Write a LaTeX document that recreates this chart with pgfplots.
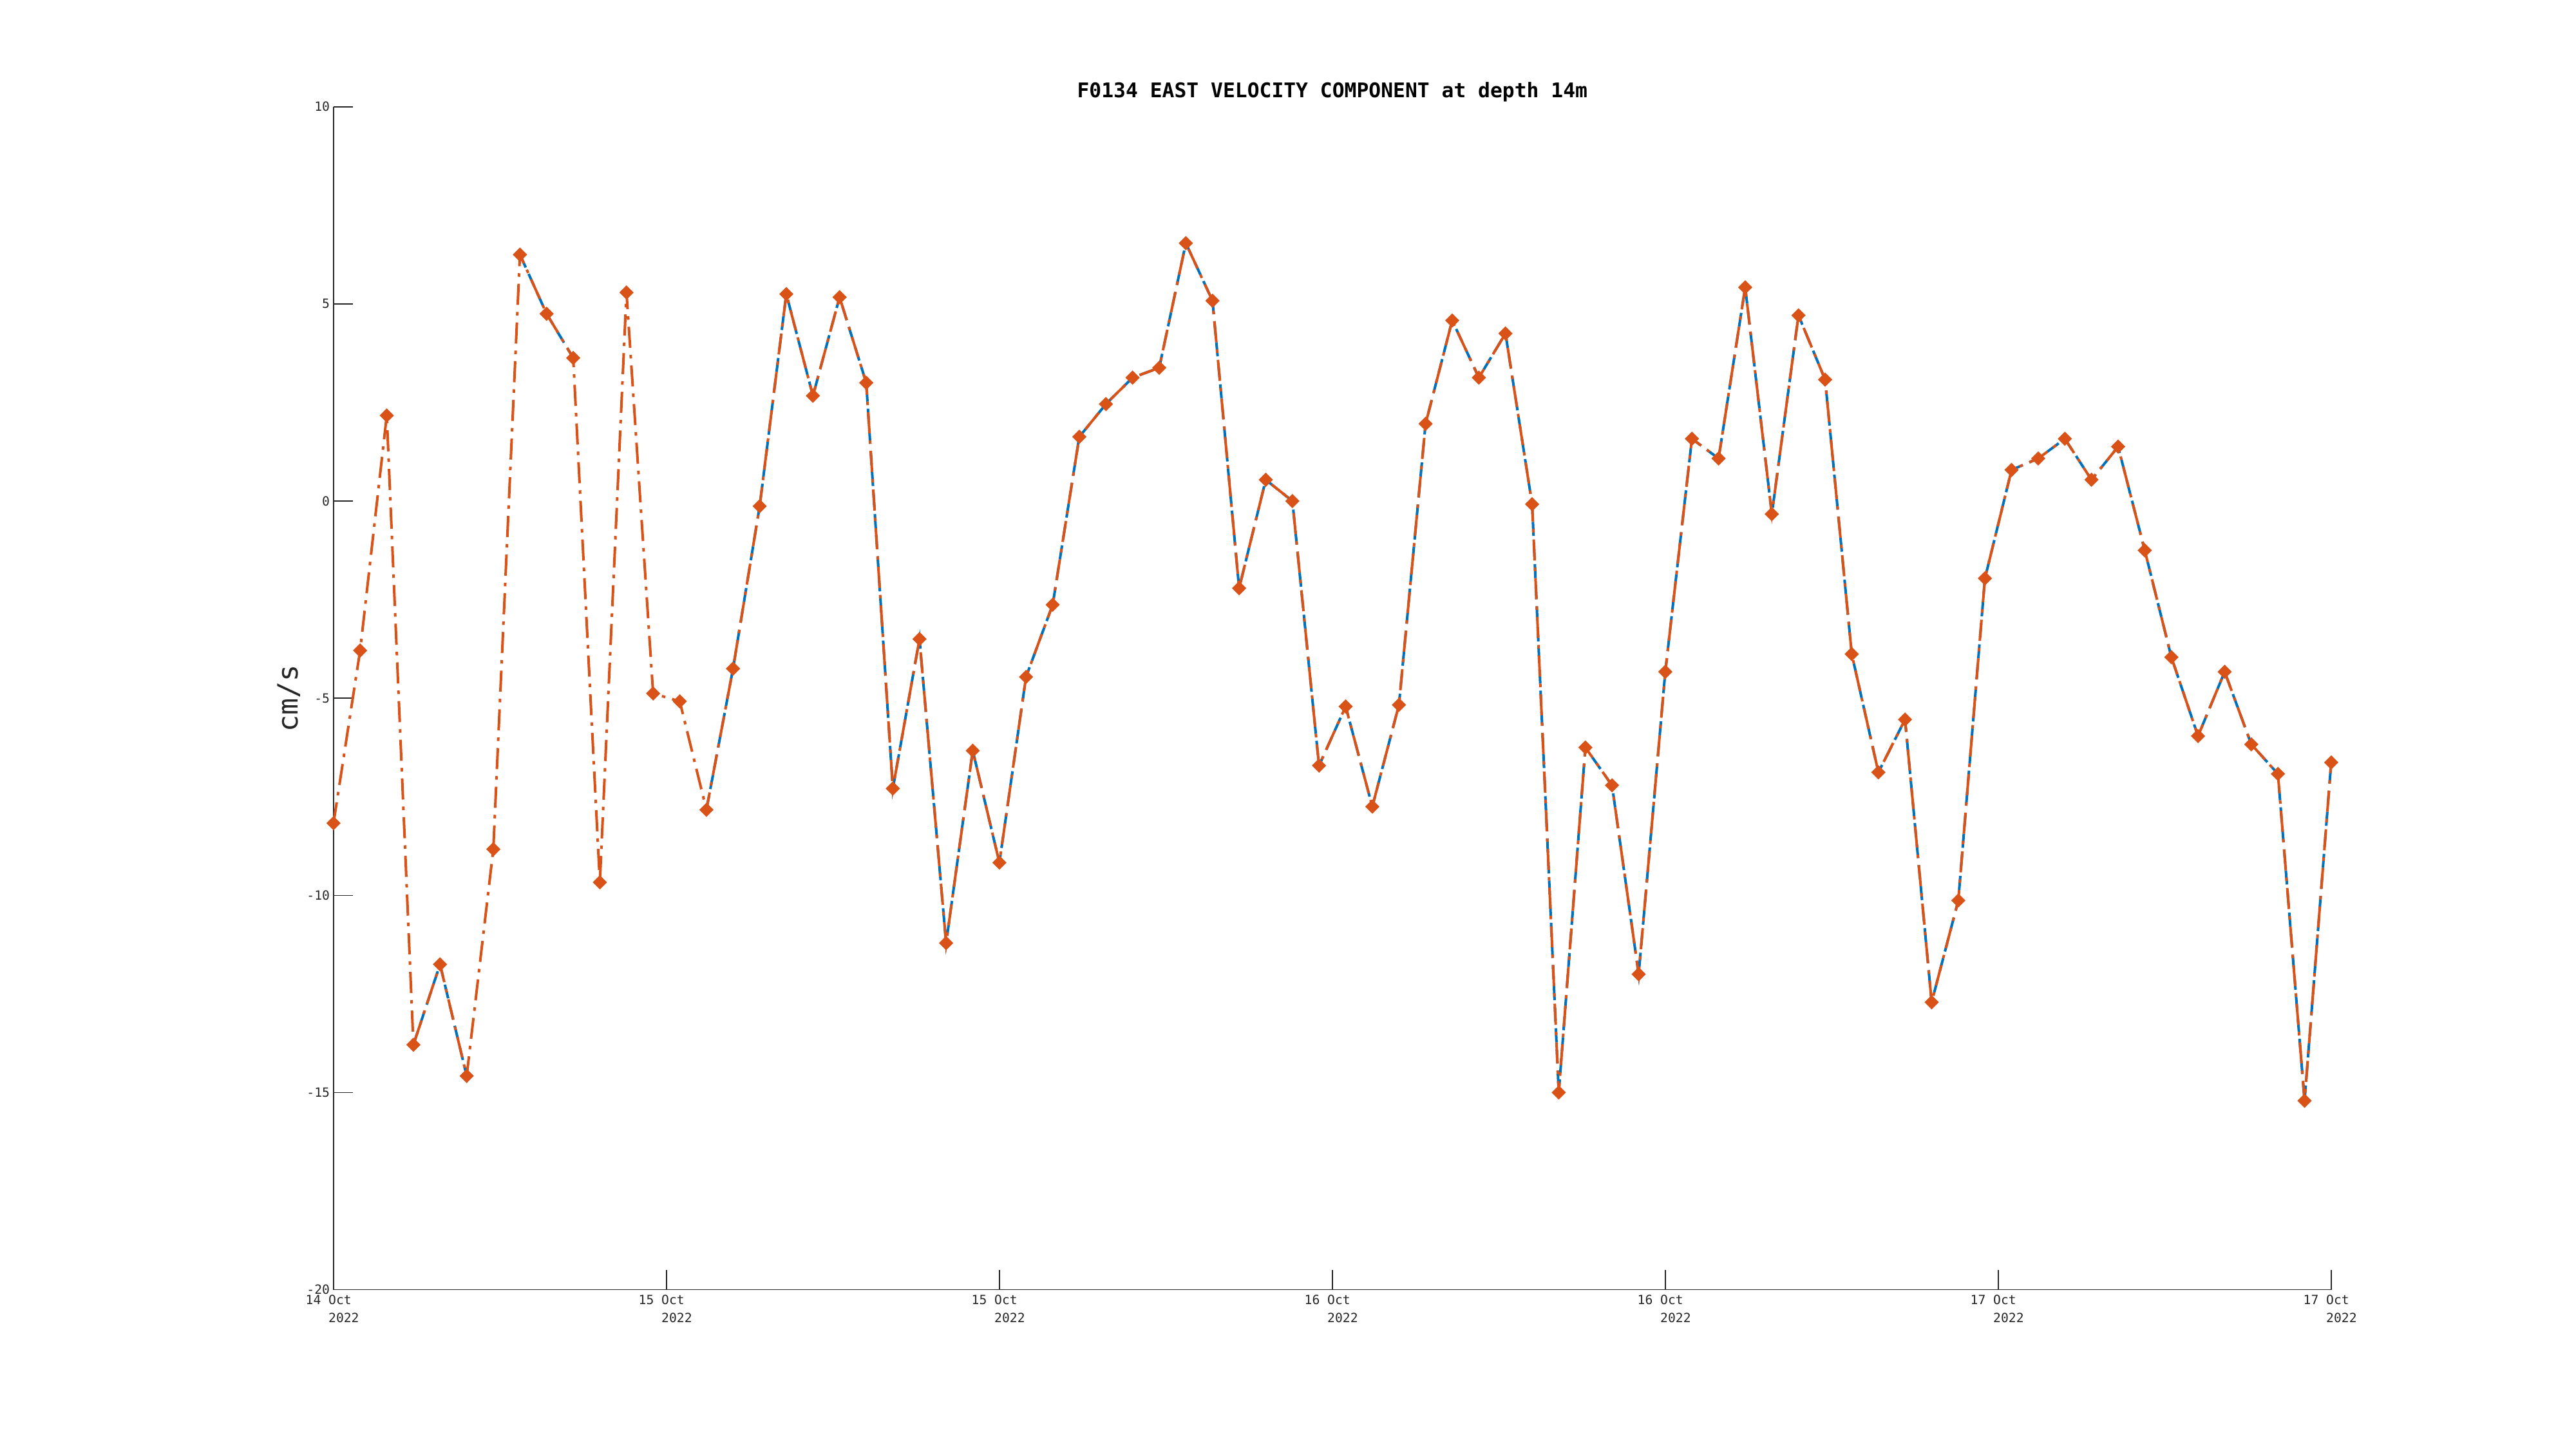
\documentclass[border=0pt]{standalone}
\usepackage{fontspec}
\usepackage{pgfplots}
\usepackage{pgfplotstable}
\pgfplotsset{compat=1.18}
\newfontfamily\mono{DejaVu Sans Mono}
\definecolor{mblue}{HTML}{0072BD}
\definecolor{morange}{HTML}{D95319}
\definecolor{axgray}{HTML}{262626}

\pgfplotstableread{
x y b
0 -8.17 nan
1 -3.79 nan
2 2.17 nan
3 -13.79 -13.79
4 -11.75 -11.75
5 -14.58 -14.58
6 -8.83 nan
7 6.25 6.25
8 4.75 4.75
9 3.63 3.63
10 -9.67 nan
11 5.29 nan
12 -4.88 nan
13 -5.08 nan
14 -7.83 -7.83
15 -4.25 -4.25
16 -0.13 -0.13
17 5.25 5.25
18 2.67 2.67
19 5.17 5.17
20 3.00 3.00
21 -7.29 -7.29
22 -3.50 -3.50
23 -11.21 -11.21
24 -6.33 -6.33
25 -9.17 -9.17
26 -4.46 -4.46
27 -2.63 -2.63
28 1.63 1.63
29 2.46 2.46
30 3.13 3.13
31 3.38 3.38
32 6.54 6.54
33 5.08 5.08
34 -2.21 -2.21
35 0.54 0.54
36 0.00 0.00
37 -6.71 -6.71
38 -5.21 -5.21
39 -7.75 -7.75
40 -5.17 -5.17
41 1.96 1.96
42 4.58 4.58
43 3.13 3.13
44 4.25 4.25
45 -0.08 -0.08
46 -15.00 -15.00
47 -6.25 -6.25
48 -7.21 -7.21
49 -12.00 -12.00
50 -4.33 -4.33
51 1.58 1.58
52 1.08 1.08
53 5.42 5.42
54 -0.33 -0.33
55 4.71 4.71
56 3.08 3.08
57 -3.88 -3.88
58 -6.88 -6.88
59 -5.54 -5.54
60 -12.71 -12.71
61 -10.13 -10.13
62 -1.96 -1.96
63 0.79 0.79
64 1.08 1.08
65 1.58 1.58
66 0.54 0.54
67 1.38 1.38
68 -1.25 -1.25
69 -3.96 -3.96
70 -5.96 -5.96
71 -4.33 -4.33
72 -6.17 -6.17
73 -6.92 -6.92
74 -15.21 -15.21
75 -6.63 -6.63
}\datatable

\begin{document}
\begin{tikzpicture}
\useasboundingbox[fill=white] (-142.1pt,-67.9pt) rectangle (955.5pt,549.5pt);
\begin{axis}[
  at={(0pt,0pt)}, anchor=south west,
  scale only axis,
  width=851.2pt, height=504pt,
  xmin=0, xmax=75, ymin=-20, ymax=10,
  axis x line=bottom, axis y line=left,
  axis line style={-, draw=axgray, line width=0.5pt},
  tick style={draw=axgray, line width=0.4pt},
  tick align=inside,
  major tick length=8.4pt,
  xtick={0,12.5,25,37.5,50,62.5,75},
  xticklabels={
    {14 Oct\\\hphantom{0000}2022},
    {15 Oct\\\hphantom{0000}2022},
    {15 Oct\\\hphantom{0000}2022},
    {16 Oct\\\hphantom{0000}2022},
    {16 Oct\\\hphantom{0000}2022},
    {17 Oct\\\hphantom{0000}2022},
    {17 Oct\\\hphantom{0000}2022}},
  xticklabel style={font=\mono\fontsize{5.4}{7.7}\selectfont, text=axgray, align=center, anchor=north, inner sep=0pt, yshift=-2pt, xshift=-2.1pt},
  ytick={-20,-15,-10,-5,0,5,10},
  yticklabels={-20,-15,-10,-5,0,5,10},
  yticklabel style={font=\mono\fontsize{5.4}{7.7}\selectfont, text=axgray, anchor=east, inner sep=0pt, xshift=-1.4pt},
  ylabel={cm/s},
  ylabel style={font=\mono\fontsize{11.9}{14}\selectfont, text=axgray, at={(axis description cs:-0.0222,0.5)}, anchor=center},
  title={F0134 EAST VELOCITY COMPONENT at depth 14m},
  title style={font=\mono\bfseries\fontsize{8.6}{10}\selectfont, at={(axis description cs:0.5,1)}, anchor=base, inner sep=0pt, yshift=-2.1pt},
  unbounded coords=jump,
  clip=false,
]
\addplot[mblue, line width=1.1pt, dash pattern=on 6pt off 3pt, mark=none] table[x=x, y=b] {\datatable};
\addplot[morange, line width=1.1pt, dash pattern=on 9pt off 3pt on 1.5pt off 3pt,
  mark=square*, mark size=1.6pt, mark options={solid, rotate=45, fill=morange, draw=morange}] table[x=x, y=y] {\datatable};
\end{axis}
\end{tikzpicture}
\end{document}
